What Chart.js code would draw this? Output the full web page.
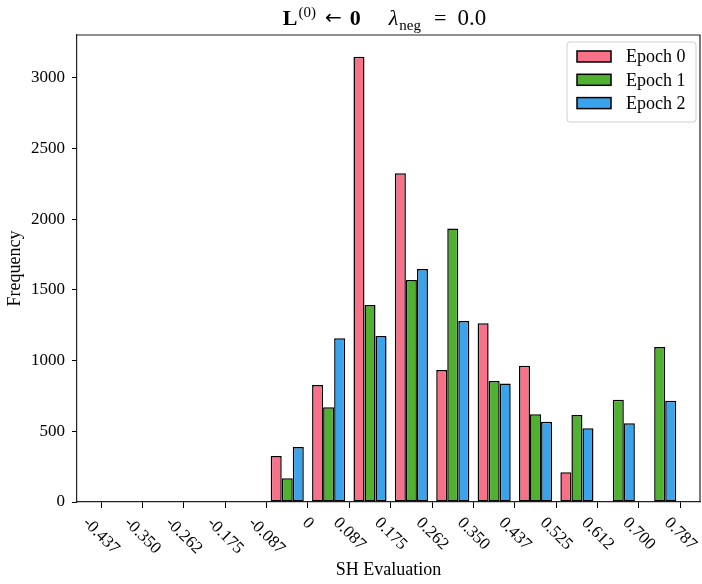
<!DOCTYPE html>
<html>
<head>
<meta charset="utf-8">
<script src="https://cdn.jsdelivr.net/npm/chart.js@4.4.0/dist/chart.umd.min.js"></script>
<style>html,body{margin:0;padding:0;background:#fff}</style>
</head>
<body>
<canvas id="histChart" width="702" height="584"></canvas>
<script>
// histogram bins (centres), width 0.0875
const binCenters = [-0.39375, -0.30625, -0.21875, -0.13125, -0.04375, 0.04375, 0.13125, 0.21875, 0.30625, 0.39375, 0.48125, 0.56875, 0.65625, 0.74375];
const epoch0 = [0, 0, 0, 0, 325, 827, 3149, 2325, 933, 1264, 964, 210, 0, 0];
const epoch1 = [0, 0, 0, 0, 168, 670, 1393, 1570, 1935, 856, 620, 615, 723, 1096];
const epoch2 = [0, 0, 0, 0, 389, 1158, 1174, 1648, 1280, 839, 568, 521, 557, 716];
const seriesLabels = ['Epoch 0', 'Epoch 1', 'Epoch 2'];
const tickValues = [-0.4375, -0.35, -0.2625, -0.175, -0.0875, 0, 0.0875, 0.175, 0.2625, 0.35, 0.4375, 0.525, 0.6125, 0.7, 0.7875];
const tickLabels = ['-0.437', '-0.350', '-0.262', '-0.175', '-0.087', '0', '0.087', '0.175', '0.262', '0.350', '0.437', '0.525', '0.612', '0.700', '0.787'];
const yTicks = [0, 500, 1000, 1500, 2000, 2500, 3000];

const colors = ['#f77189', '#50b131', '#3ba3ec'];
const serif = '"Liberation Serif", "DejaVu Serif", serif';

Chart.defaults.font.family = serif;
Chart.defaults.font.size = 17;
Chart.defaults.color = '#000';

function toPoints(vals) {
    return vals.map((v, i) => ({ x: binCenters[i], y: v }));
}

// spines, rotated tick labels, legend and title
const decorations = {
    id: 'decorations',
    afterDraw(chart) {
        const { ctx, chartArea: a } = chart;
        const x = chart.scales.x;
        ctx.save();

        ctx.strokeStyle = '#222';
        ctx.lineWidth = 1.2;
        ctx.beginPath();
        ctx.moveTo(a.left, a.top);
        ctx.lineTo(a.right, a.top);
        ctx.lineTo(a.right, a.bottom);
        ctx.stroke();

        // x tick labels, rotated -45deg like matplotlib
        ctx.font = '17px ' + serif;
        ctx.fillStyle = '#000';
        ctx.textAlign = 'center';
        ctx.textBaseline = 'middle';
        tickValues.forEach((v, i) => {
            const px = x.getPixelForValue(v);
            const w = ctx.measureText(tickLabels[i]).width;
            const cy = a.bottom + 13 + (w + 15) * 0.3536;
            ctx.save();
            ctx.translate(px, cy);
            ctx.rotate(Math.PI / 4);
            ctx.fillText(tickLabels[i], 0, 0);
            ctx.restore();
        });

        // legend
        const lx = 567, ly = 42, lw = 129, lh = 80;
        ctx.beginPath();
        ctx.roundRect(lx, ly, lw, lh, 3);
        ctx.fillStyle = 'rgba(255,255,255,0.85)';
        ctx.fill();
        ctx.strokeStyle = '#d0d0d0';
        ctx.lineWidth = 1;
        ctx.stroke();
        chart.data.datasets.forEach((ds, i) => {
            const cy = 56.5 + i * 23.3;
            ctx.fillStyle = ds.backgroundColor;
            ctx.fillRect(577, cy - 5.5, 34, 11);
            ctx.strokeStyle = '#000';
            ctx.lineWidth = 1.5;
            ctx.strokeRect(577, cy - 5.5, 34, 11);
            ctx.fillStyle = '#000';
            ctx.textAlign = 'left';
            ctx.font = '18px ' + serif;
            ctx.fillText(ds.label, 626, cy + 1);
        });

        // title: L^(0) <- 0   lambda_neg = 0.0
        const base = 25;
        const parts = [
            { t: 'L', f: 'bold 22px ' + serif, dy: 0, gap: 1 },
            { t: '(0)', f: '15px ' + serif, dy: -8, gap: 9 },
            { t: '\u2190', f: '20px "DejaVu Sans", sans-serif', dy: -1, gap: 8 },
            { t: '0', f: 'bold 22px ' + serif, dy: 0, gap: 28 },
            { t: '\u03bb', f: 'italic 22px ' + serif, dy: 0, gap: 1 },
            { t: 'neg', f: '15px ' + serif, dy: 5, gap: 13 },
            { t: '=', f: '22px ' + serif, dy: 0, gap: 11 },
            { t: '0.0', f: '23px ' + serif, dy: 0, gap: 0 }
        ];
        let total = 0;
        parts.forEach(p => { ctx.font = p.f; p.w = ctx.measureText(p.t).width; total += p.w + p.gap; });
        let cx = (a.left + a.right) / 2 - 4 - total / 2;
        ctx.textAlign = 'left';
        ctx.textBaseline = 'alphabetic';
        ctx.fillStyle = '#000';
        parts.forEach(p => {
            ctx.font = p.f;
            ctx.fillText(p.t, cx, base + p.dy);
            cx += p.w + p.gap;
        });

        ctx.restore();
    }
};

const ctx = document.getElementById('histChart').getContext('2d');
new Chart(ctx, {
    type: 'bar',
    data: {
        datasets: [epoch0, epoch1, epoch2].map((vals, i) => ({
            label: seriesLabels[i],
            data: toPoints(vals),
            backgroundColor: colors[i],
            borderColor: '#000',
            borderWidth: 1.5,
            borderSkipped: false,
            barPercentage: 1.0,
            categoryPercentage: 0.8
        }))
    },
    options: {
        responsive: false,
        animation: false,
        devicePixelRatio: 1,
        layout: { padding: { top: 35, right: 2, left: 0, bottom: 3 } },
        plugins: {
            legend: { display: false },
            title: { display: false },
            tooltip: { enabled: false }
        },
        scales: {
            x: {
                type: 'linear',
                offset: false,
                min: -0.4883,
                max: 0.829,
                afterBuildTicks(scale) {
                    scale.ticks = tickValues.map(v => ({ value: v }));
                },
                afterFit(scale) { scale.height = 79; },
                ticks: { display: false, autoSkip: false, includeBounds: false },
                grid: { offset: false, drawOnChartArea: false, drawTicks: true, tickLength: 6, tickWidth: 1, tickColor: '#000' },
                border: { display: true, color: '#222', width: 1.2 },
                title: { display: true, text: 'SH Evaluation', font: { size: 18 }, padding: { top: 0, bottom: 0 } }
            },
            y: {
                min: 0,
                max: 3303,
                afterBuildTicks(scale) {
                    scale.ticks = yTicks.map(v => ({ value: v }));
                },
                afterFit(scale) { scale.width = 77; },
                ticks: { padding: 7, includeBounds: false, callback: v => String(v) },
                grid: { drawOnChartArea: false, drawTicks: true, tickLength: 5, tickWidth: 1, tickColor: '#000' },
                border: { display: true, color: '#222', width: 1.2 },
                title: { display: true, text: 'Frequency', font: { size: 18 }, padding: { top: 4, bottom: 0 } }
            }
        }
    },
    plugins: [decorations]
});
</script>
</body>
</html>
